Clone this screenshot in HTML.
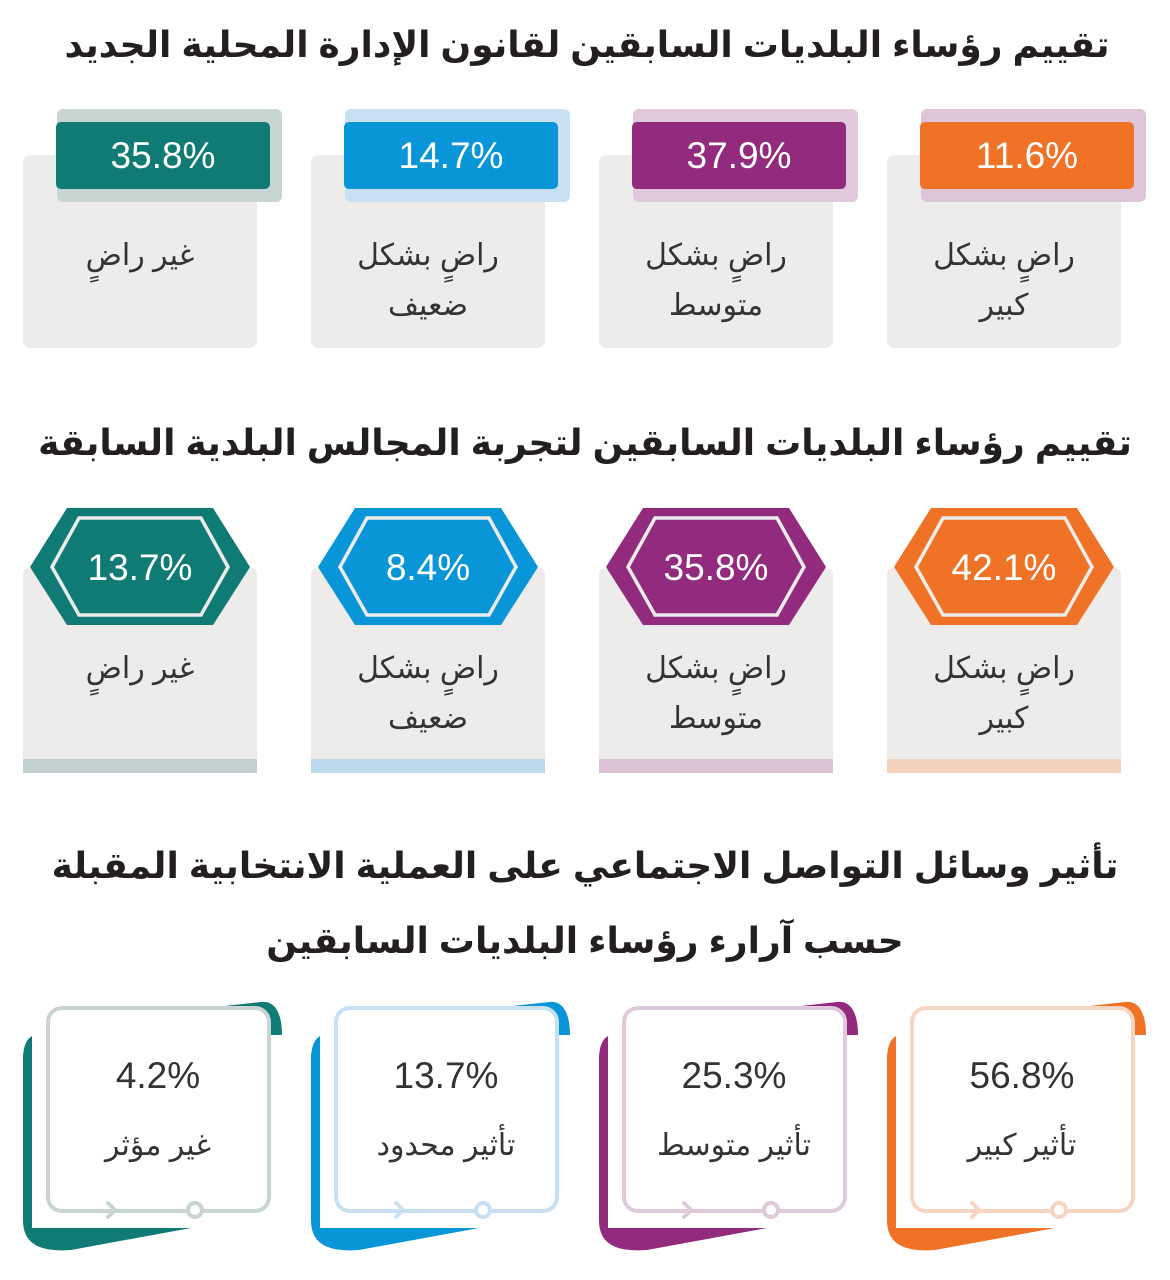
<!DOCTYPE html>
<html><head><meta charset="utf-8"><style>
html,body{margin:0;padding:0;background:#fff}
svg{display:block}
text{font-family:"Liberation Sans","Noto Sans CJK SC","DejaVu Sans",sans-serif}
.t{font-size:36px;font-weight:bold;fill:#231f20}
.p{font-size:37px;fill:#fff}
.pd{font-size:37px;fill:#333}
.l{font-size:30px;fill:#333}
</style></head><body>
<svg width="1170" height="1280" viewBox="0 0 1170 1280" xmlns="http://www.w3.org/2000/svg">
<text class="t" x="587" y="57" text-anchor="middle" direction="rtl">تقييم رؤساء البلديات السابقين لقانون الإدارة المحلية الجديد</text>

<g id="s1">
<rect x="23" y="155" width="234" height="193" rx="8" fill="#edeceb"/>
<rect x="57" y="109" width="225" height="93" rx="6" fill="#c9d5d3"/>
<rect x="56" y="122" width="214" height="67" rx="5" fill="#0f7b74"/>
<text class="p" x="163" y="168" text-anchor="middle">35.8%</text>
<text class="l" x="140" y="265" text-anchor="middle" direction="rtl">غير راضٍ</text>
<rect x="311" y="155" width="234" height="193" rx="8" fill="#edeceb"/>
<rect x="345" y="109" width="225" height="93" rx="6" fill="#c7e1f3"/>
<rect x="344" y="122" width="214" height="67" rx="5" fill="#0996d8"/>
<text class="p" x="451" y="168" text-anchor="middle">14.7%</text>
<text class="l" x="428" y="265" text-anchor="middle" direction="rtl">راضٍ بشكل</text>
<text class="l" x="428" y="315" text-anchor="middle" direction="rtl">ضعيف</text>
<rect x="599" y="155" width="234" height="193" rx="8" fill="#edeceb"/>
<rect x="633" y="109" width="225" height="93" rx="6" fill="#dfc9db"/>
<rect x="632" y="122" width="214" height="67" rx="5" fill="#922a7e"/>
<text class="p" x="739" y="168" text-anchor="middle">37.9%</text>
<text class="l" x="716" y="265" text-anchor="middle" direction="rtl">راضٍ بشكل</text>
<text class="l" x="716" y="315" text-anchor="middle" direction="rtl">متوسط</text>
<rect x="887" y="155" width="234" height="193" rx="8" fill="#edeceb"/>
<rect x="921" y="109" width="225" height="93" rx="6" fill="#dcc6d8"/>
<rect x="920" y="122" width="214" height="67" rx="5" fill="#f07226"/>
<text class="p" x="1027" y="168" text-anchor="middle">11.6%</text>
<text class="l" x="1004" y="265" text-anchor="middle" direction="rtl">راضٍ بشكل</text>
<text class="l" x="1004" y="315" text-anchor="middle" direction="rtl">كبير</text>
</g>

<text class="t" x="585" y="455" text-anchor="middle" direction="rtl">تقييم رؤساء البلديات السابقين لتجربة المجالس البلدية السابقة</text>

<g>
<rect x="23" y="568" width="234" height="205" rx="6" fill="#edeceb"/>
<rect x="23" y="759" width="234" height="14" fill="#c2d0cf"/>
<polygon points="30,567 67,508 213,508 250,567 213,625 67,625" fill="#0f7b74"/>
<polygon points="52,567 79,518 201,518 228,567 201,615 79,615" fill="none" stroke="#edeceb" stroke-width="3.5"/>
<text class="p" x="140" y="580" text-anchor="middle">13.7%</text>
<text class="l" x="140" y="678" text-anchor="middle" direction="rtl">غير راضٍ</text>

<rect x="311" y="568" width="234" height="205" rx="6" fill="#edeceb"/>
<rect x="311" y="759" width="234" height="14" fill="#bcd9ec"/>
<polygon points="318,567 355,508 501,508 538,567 501,625 355,625" fill="#0996d8"/>
<polygon points="340,567 367,518 489,518 516,567 489,615 367,615" fill="none" stroke="#edeceb" stroke-width="3.5"/>
<text class="p" x="428" y="580" text-anchor="middle">8.4%</text>
<text class="l" x="428" y="678" text-anchor="middle" direction="rtl">راضٍ بشكل</text>
<text class="l" x="428" y="728" text-anchor="middle" direction="rtl">ضعيف</text>

<rect x="599" y="568" width="234" height="205" rx="6" fill="#edeceb"/>
<rect x="599" y="759" width="234" height="14" fill="#dac4d6"/>
<polygon points="606,567 643,508 789,508 826,567 789,625 643,625" fill="#922a7e"/>
<polygon points="628,567 655,518 777,518 804,567 777,615 655,615" fill="none" stroke="#edeceb" stroke-width="3.5"/>
<text class="p" x="716" y="580" text-anchor="middle">35.8%</text>
<text class="l" x="716" y="678" text-anchor="middle" direction="rtl">راضٍ بشكل</text>
<text class="l" x="716" y="728" text-anchor="middle" direction="rtl">متوسط</text>

<rect x="887" y="568" width="234" height="205" rx="6" fill="#edeceb"/>
<rect x="887" y="759" width="234" height="14" fill="#f3d3bd"/>
<polygon points="894,567 931,508 1077,508 1114,567 1077,625 931,625" fill="#f07226"/>
<polygon points="916,567 943,518 1065,518 1092,567 1065,615 943,615" fill="none" stroke="#edeceb" stroke-width="3.5"/>
<text class="p" x="1004" y="580" text-anchor="middle">42.1%</text>
<text class="l" x="1004" y="678" text-anchor="middle" direction="rtl">راضٍ بشكل</text>
<text class="l" x="1004" y="728" text-anchor="middle" direction="rtl">كبير</text>
</g>

<text class="t" x="585" y="878" text-anchor="middle" direction="rtl">تأثير وسائل التواصل الاجتماعي على العملية الانتخابية المقبلة</text>
<text class="t" x="585" y="953" text-anchor="middle" direction="rtl">حسب آرارء رؤساء البلديات السابقين</text>

<defs>
<g id="card">
<path d="M9,36 C2,40 0,50 0,60 L0,220 C0,245 18,252 48,250 L168,228 L9,228 Z"/>
<path d="M103,17 L238,2 C253,0 259,15 259,35 L246,35 L246,17 Z"/>
</g>
</defs>
<g fill="#0f7b74"><use href="#card" x="23" y="1000"/></g>
<g fill="#0996d8"><use href="#card" x="311" y="1000"/></g>
<g fill="#922a7e"><use href="#card" x="599" y="1000"/></g>
<g fill="#f07226"><use href="#card" x="887" y="1000"/></g>

<g stroke-width="4" fill="#fff">
<rect x="48" y="1008" width="221" height="203" rx="14" stroke="#c9d5d3"/>
<rect x="336" y="1008" width="221" height="203" rx="14" stroke="#c7e1f3"/>
<rect x="624" y="1008" width="221" height="203" rx="14" stroke="#dfc9db"/>
<rect x="912" y="1008" width="221" height="203" rx="14" stroke="#f6d6c2"/>
</g>
<g fill="none" stroke-width="4" stroke-linecap="round">
<path d="M108,1203 L115,1210 L108,1217" stroke="#c9d5d3"/>
<circle cx="195" cy="1210" r="7" fill="#fff" stroke="#c9d5d3"/>
<path d="M396,1203 L403,1210 L396,1217" stroke="#c7e1f3"/>
<circle cx="483" cy="1210" r="7" fill="#fff" stroke="#c7e1f3"/>
<path d="M684,1203 L691,1210 L684,1217" stroke="#dfc9db"/>
<circle cx="771" cy="1210" r="7" fill="#fff" stroke="#dfc9db"/>
<path d="M972,1203 L979,1210 L972,1217" stroke="#f6d6c2"/>
<circle cx="1059" cy="1210" r="7" fill="#fff" stroke="#f6d6c2"/>
</g>
<text class="pd" x="158" y="1088" text-anchor="middle">4.2%</text>
<text class="l" x="158" y="1155" text-anchor="middle" direction="rtl">غير مؤثر</text>
<text class="pd" x="446" y="1088" text-anchor="middle">13.7%</text>
<text class="l" x="446" y="1155" text-anchor="middle" direction="rtl">تأثير محدود</text>
<text class="pd" x="734" y="1088" text-anchor="middle">25.3%</text>
<text class="l" x="734" y="1155" text-anchor="middle" direction="rtl">تأثير متوسط</text>
<text class="pd" x="1022" y="1088" text-anchor="middle">56.8%</text>
<text class="l" x="1022" y="1155" text-anchor="middle" direction="rtl">تأثير كبير</text>
</svg>
</body></html>
